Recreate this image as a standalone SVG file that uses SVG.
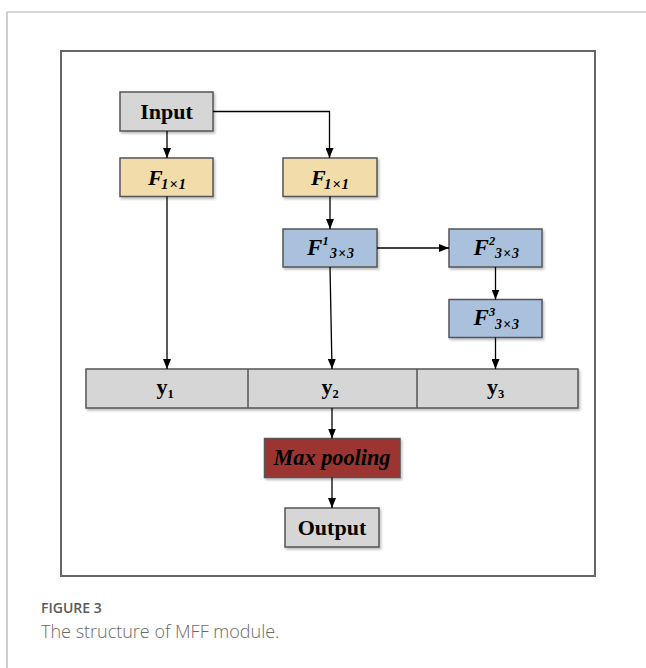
<svg xmlns="http://www.w3.org/2000/svg" width="646" height="668" viewBox="0 0 646 668">
<defs>
<marker id="ah" viewBox="0 0 10 8" refX="10" refY="4" markerWidth="10" markerHeight="8" markerUnits="userSpaceOnUse" orient="auto">
<path d="M0,0 L10,4 L0,8 Z" fill="#000"/>
</marker>
<filter id="sh" x="-10%" y="-10%" width="130%" height="140%">
<feDropShadow dx="1.5" dy="2" stdDeviation="1" flood-color="#000" flood-opacity="0.25"/>
</filter>
</defs>
<style>
.box{stroke:#555;stroke-width:1.5;filter:url(#sh)}
.gray{fill:#d6d6d6}
.tan{fill:#f1dcaa}
.blue{fill:#a9c1dd}
.red{fill:#9c3632}
.t{font-family:"Liberation Serif","Times New Roman",serif;fill:#000;font-weight:bold}
.fi{font-style:italic}
.conn{fill:none;stroke:#000;stroke-width:1.3;marker-end:url(#ah)}
.cap{font-family:"Open Sans","Noto Sans",sans-serif}
</style>
<rect width="646" height="668" fill="#fff"/>
<path d="M7,668 V12 H646" fill="none" stroke="#b0b0b0" stroke-width="1.2"/>
<rect x="61" y="51" width="534" height="525" fill="#fff" stroke="#666" stroke-width="2"/>

<g id="input">
<rect class="box gray" x="120" y="92" width="93" height="39"/>
<text class="t" x="166.5" y="119" font-size="22" text-anchor="middle">Input</text>
</g>
<g id="f1x1-left">
<rect class="box tan" x="120" y="158" width="93" height="38.5"/>
<text class="t fi" x="148" y="184.5" font-size="22">F<tspan x="161" y="188.5" font-size="15" textLength="25">1×1</tspan></text>
</g>
<g id="f1x1-right">
<rect class="box tan" x="283" y="158" width="94" height="38.5"/>
<text class="t fi" x="311" y="184.5" font-size="22">F<tspan x="324" y="188.5" font-size="15" textLength="25">1×1</tspan></text>
</g>
<g id="f1-3x3">
<rect class="box blue" x="283" y="229" width="94" height="38"/>
<text class="t fi" x="307" y="254.5" font-size="23">F<tspan x="322.5" y="245" font-size="12.5">1</tspan><tspan x="330" y="258" font-size="14" textLength="24">3×3</tspan></text>
</g>
<g id="f2-3x3">
<rect class="box blue" x="449" y="229" width="93" height="38"/>
<text class="t fi" x="473.5" y="254.5" font-size="23">F<tspan x="489" y="245" font-size="12.5">2</tspan><tspan x="495" y="258" font-size="14" textLength="24">3×3</tspan></text>
</g>
<g id="f3-3x3">
<rect class="box blue" x="449" y="299.5" width="93" height="38"/>
<text class="t fi" x="473.5" y="325" font-size="23">F<tspan x="489" y="315.5" font-size="12.5">3</tspan><tspan x="495" y="328.5" font-size="14" textLength="24">3×3</tspan></text>
</g>
<g id="y-row">
<rect class="box gray" x="86" y="369" width="492" height="39"/>
<line x1="248" y1="369" x2="248" y2="408" stroke="#555" stroke-width="1.5"/>
<line x1="417" y1="369" x2="417" y2="408" stroke="#555" stroke-width="1.5"/>
<text class="t" x="156.5" y="393.5" font-size="22">y<tspan y="398" font-size="12.5">1</tspan></text>
<text class="t" x="321.5" y="393.5" font-size="22">y<tspan y="398" font-size="12.5">2</tspan></text>
<text class="t" x="487" y="393.5" font-size="22">y<tspan y="398" font-size="12.5">3</tspan></text>
</g>
<g id="maxpool">
<rect class="box red" x="264.5" y="438.5" width="135.5" height="39"/>
<text class="t fi" x="332" y="465" font-size="22.5" font-weight="normal" text-anchor="middle" textLength="117" lengthAdjust="spacingAndGlyphs">Max pooling</text>
</g>
<g id="output">
<rect class="box gray" x="285" y="508" width="94" height="39"/>
<text class="t" x="332" y="535" font-size="22" text-anchor="middle">Output</text>
</g>

<g id="connectors">
<path class="conn" d="M167,131 V158"/>
<path class="conn" d="M213,111.5 H329.5 V158"/>
<path class="conn" d="M330,196.5 V229"/>
<path class="conn" d="M377,248 H449"/>
<path class="conn" d="M495.5,267 V299.5"/>
<path class="conn" d="M495.5,337.5 V369"/>
<path class="conn" d="M167,196.5 V369"/>
<path class="conn" d="M330,267 L332,369"/>
<path class="conn" d="M332,408 V438.5"/>
<path class="conn" d="M332,477.5 V508"/>
</g>

<text class="cap" x="41" y="612.5" font-size="14" font-weight="600" fill="#5a5a5a">FIGURE 3</text>
<text class="cap" x="41" y="638" font-size="18" font-weight="300" fill="#6a6a6a">The structure of MFF module.</text>
</svg>
